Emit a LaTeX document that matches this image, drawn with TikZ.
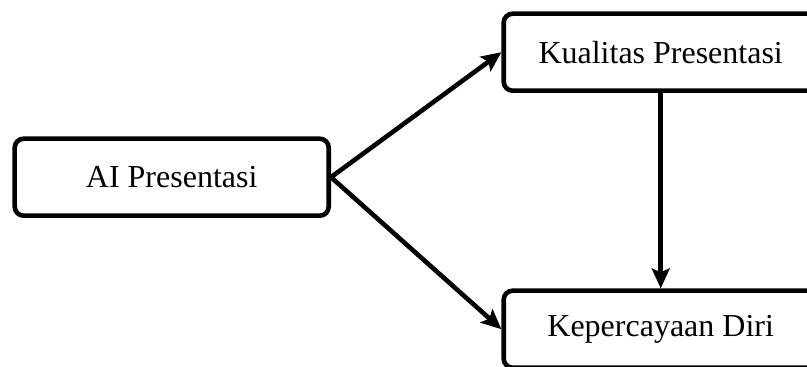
\documentclass[tikz,border=0pt]{standalone}
\usepackage{fontspec}
\setmainfont{Liberation Serif}
\usepackage{tikz}
\usetikzlibrary{arrows.meta,matrix,positioning}
\tikzset{>={Stealth[length=10pt,width=9pt,inset=2pt]},
         box/.style={draw, line width=2.3pt, rounded corners=4.5pt,
                     minimum width=157pt, minimum height=38.5pt,
                     font=\fontsize{16}{19}\selectfont},
         conn/.style={->, line width=2.3pt}}
\begin{document}
\begin{tikzpicture}[x=0.5pt,y=-0.5pt]

	\useasboundingbox (0,0) rectangle (807,367);
	\clip (0,0) rectangle (807,367);
	\matrix (m) [matrix of nodes, nodes={box}, inner sep=0pt,
	             row sep=21.7pt, column sep=85.2pt, anchor=north west] at (12,11)
	  {  & Kualitas Presentasi \\
	   AI Presentasi & \\[13.5pt]
	     & Kepercayaan Diri \\};
	\foreach \r in {1,3}
		\draw[conn] (m-2-1.east) -- (m-\r-2.west);
	\draw[conn] (m-1-2) -- (m-3-2);
	\end{tikzpicture}
\end{document}
